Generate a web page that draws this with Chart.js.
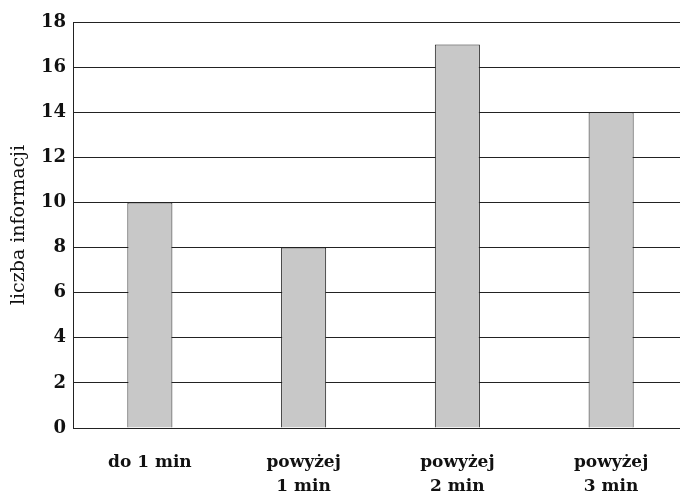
<!DOCTYPE html>
<html>
<head>
<meta charset="utf-8">
<script src="https://cdn.jsdelivr.net/npm/chart.js@4"></script>
<style>
  html, body { margin: 0; padding: 0; background: #fff; overflow: hidden; }
  #wrap { width: 688px; height: 492px; }
</style>
</head>
<body>
<div id="wrap"><canvas id="chart" width="688" height="492"></canvas></div>
<script>
// kategorie i wartości
const kategorie = [['do 1 min'], ['powyżej', '1 min'], ['powyżej', '2 min'], ['powyżej', '3 min']];
const liczbaInformacji = [10, 8, 17, 14];
const yTicks = [0, 2, 4, 6, 8, 10, 12, 14, 16, 18];

const ctx = document.getElementById('chart').getContext('2d');

new Chart(ctx, {
    type: 'bar',
    data: {
        labels: kategorie,
        datasets: [{
            data: liczbaInformacji,
            backgroundColor: '#c8c8c8',
            borderColor: '#222',
            borderWidth: 1,
            barPercentage: 0.293,
            categoryPercentage: 1
        }]
    },
    options: {
        responsive: false,
        animation: false,
        layout: { padding: { top: 22, right: 0, bottom: 0, left: 0 } },
        plugins: {
            legend: { display: false },
            tooltip: { enabled: false }
        },
        scales: {
            y: {
                min: 0,
                max: 18,
                afterBuildTicks: axis => { axis.ticks = yTicks.map(v => ({ value: v })); },
                afterFit: axis => { axis.width = 73; },
                grid: { color: '#222', lineWidth: 1, drawTicks: false },
                border: { color: '#222', width: 1 },
                ticks: {
                    color: '#111',
                    padding: 7,
                    font: { family: 'DejaVu Serif', size: 18, weight: 'bold' }
                },
                title: {
                    display: true,
                    text: 'liczba informacji',
                    color: '#111',
                    padding: { top: 8, bottom: 0 },
                    font: { family: 'DejaVu Serif', size: 19 }
                }
            },
            x: {
                afterFit: axis => { axis.height = 64; },
                grid: { display: false, drawTicks: false },
                border: { color: '#222', width: 1 },
                ticks: {
                    color: '#111',
                    padding: 22,
                    maxRotation: 0,
                    font: { family: 'DejaVu Serif', size: 17, weight: 'bold', lineHeight: 1.45 }
                }
            }
        }
    }
});
</script>
</body>
</html>
